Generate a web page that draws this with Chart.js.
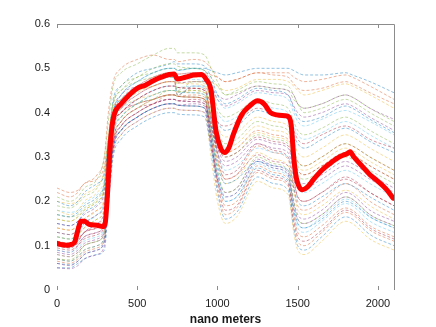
<!DOCTYPE html>
<html>
<head>
<meta charset="utf-8">
<script src="https://cdn.jsdelivr.net/npm/chart.js@4.4.1/dist/chart.umd.min.js"></script>
<style>
html,body{margin:0;padding:0;background:#fff;}
#wrap{width:436px;height:327px;position:relative;}
</style>
</head>
<body>
<div id="wrap"><canvas id="c" width="436" height="327"></canvas></div>
<script>
// wavelength positions (nm) for the sample spectra
const wavelengths = [0,80,130,170,250,295,320,350,400,500,600,700,730,750,850,920,960,1000,1050,1120,1250,1350,1440,1475,1500,1540,1650,1800,1840,1950,2100];

const s01 = [0.20,0.19,0.20,0.22,0.24,0.26,0.33,0.40,0.44,0.47,0.49,0.50,0.50,0.495,0.50,0.50,0.495,0.49,0.485,0.49,0.50,0.50,0.50,0.495,0.49,0.485,0.485,0.49,0.485,0.47,0.445];
const s02 = [0.22,0.21,0.22,0.24,0.25,0.28,0.34,0.40,0.43,0.46,0.48,0.49,0.49,0.487,0.49,0.49,0.485,0.48,0.47,0.475,0.49,0.49,0.49,0.48,0.475,0.47,0.475,0.485,0.48,0.46,0.43];
const s03 = [0.18,0.17,0.18,0.20,0.22,0.25,0.32,0.39,0.42,0.45,0.47,0.48,0.48,0.477,0.48,0.48,0.47,0.46,0.45,0.455,0.475,0.475,0.47,0.46,0.45,0.44,0.45,0.465,0.46,0.44,0.41];
const s04 = [0.15,0.145,0.155,0.17,0.19,0.22,0.30,0.38,0.41,0.44,0.46,0.47,0.47,0.467,0.47,0.47,0.455,0.44,0.43,0.44,0.46,0.455,0.45,0.44,0.42,0.41,0.42,0.44,0.435,0.41,0.385];
const s05 = [0.21,0.20,0.21,0.23,0.25,0.30,0.38,0.46,0.49,0.51,0.53,0.545,0.545,0.535,0.535,0.53,0.50,0.47,0.44,0.45,0.47,0.465,0.46,0.44,0.42,0.40,0.41,0.43,0.425,0.40,0.37];
const s06 = [0.12,0.115,0.125,0.15,0.17,0.20,0.30,0.40,0.44,0.47,0.49,0.50,0.50,0.495,0.50,0.495,0.47,0.43,0.41,0.42,0.445,0.44,0.43,0.40,0.38,0.37,0.385,0.405,0.40,0.38,0.35];
const s07 = [0.10,0.095,0.11,0.13,0.14,0.16,0.27,0.37,0.40,0.43,0.45,0.46,0.46,0.457,0.455,0.45,0.42,0.38,0.37,0.38,0.41,0.40,0.39,0.36,0.34,0.33,0.35,0.37,0.365,0.34,0.32];
const s08 = [0.17,0.165,0.175,0.19,0.21,0.24,0.32,0.40,0.43,0.455,0.47,0.48,0.48,0.44,0.46,0.46,0.43,0.38,0.36,0.37,0.405,0.395,0.385,0.35,0.33,0.32,0.34,0.365,0.36,0.335,0.31];
const s09 = [0.08,0.075,0.085,0.10,0.11,0.13,0.24,0.34,0.38,0.41,0.43,0.44,0.44,0.437,0.435,0.43,0.39,0.34,0.31,0.32,0.36,0.35,0.34,0.31,0.29,0.28,0.30,0.33,0.325,0.30,0.27];
const s10 = [0.14,0.135,0.145,0.16,0.18,0.21,0.30,0.39,0.42,0.445,0.46,0.47,0.47,0.467,0.465,0.46,0.41,0.35,0.32,0.33,0.37,0.36,0.35,0.31,0.28,0.27,0.29,0.32,0.315,0.29,0.26];
const s11 = [0.06,0.055,0.065,0.08,0.09,0.11,0.22,0.33,0.37,0.40,0.42,0.43,0.43,0.427,0.425,0.42,0.37,0.31,0.28,0.29,0.33,0.32,0.31,0.27,0.24,0.23,0.25,0.28,0.275,0.25,0.22];
const s12 = [0.19,0.185,0.195,0.21,0.23,0.27,0.35,0.42,0.45,0.47,0.48,0.49,0.49,0.45,0.47,0.47,0.43,0.36,0.33,0.34,0.38,0.37,0.36,0.32,0.29,0.28,0.30,0.33,0.325,0.30,0.27];
const s13 = [0.09,0.085,0.095,0.11,0.12,0.14,0.25,0.35,0.39,0.42,0.44,0.45,0.45,0.447,0.445,0.44,0.38,0.31,0.27,0.28,0.32,0.31,0.30,0.26,0.23,0.22,0.24,0.27,0.265,0.24,0.21];
const s14 = [0.13,0.125,0.135,0.15,0.17,0.19,0.28,0.37,0.40,0.43,0.45,0.46,0.46,0.457,0.455,0.45,0.39,0.31,0.26,0.27,0.33,0.315,0.30,0.25,0.21,0.20,0.22,0.255,0.25,0.22,0.19];
const s15 = [0.07,0.065,0.075,0.09,0.10,0.12,0.22,0.32,0.36,0.39,0.41,0.42,0.42,0.417,0.415,0.41,0.35,0.28,0.24,0.25,0.29,0.28,0.27,0.23,0.20,0.19,0.21,0.24,0.235,0.21,0.18];
const s16 = [0.11,0.105,0.115,0.13,0.15,0.17,0.27,0.37,0.41,0.44,0.46,0.47,0.47,0.44,0.455,0.455,0.39,0.30,0.25,0.26,0.325,0.31,0.295,0.23,0.19,0.18,0.20,0.24,0.235,0.20,0.17];
const s17 = [0.16,0.155,0.165,0.18,0.20,0.23,0.31,0.38,0.41,0.43,0.44,0.45,0.45,0.447,0.445,0.44,0.37,0.29,0.24,0.25,0.31,0.295,0.28,0.22,0.18,0.17,0.19,0.225,0.22,0.19,0.16];
const s18 = [0.05,0.048,0.055,0.07,0.08,0.10,0.20,0.31,0.35,0.38,0.40,0.41,0.41,0.407,0.405,0.40,0.33,0.25,0.21,0.22,0.29,0.275,0.26,0.19,0.16,0.15,0.17,0.21,0.205,0.17,0.145];
const s19 = [0.12,0.115,0.125,0.14,0.16,0.18,0.27,0.36,0.39,0.42,0.43,0.44,0.44,0.437,0.435,0.43,0.36,0.27,0.22,0.23,0.30,0.285,0.27,0.20,0.16,0.15,0.17,0.21,0.205,0.17,0.145];
const s20 = [0.08,0.075,0.085,0.10,0.11,0.13,0.24,0.35,0.39,0.42,0.44,0.45,0.45,0.447,0.445,0.44,0.36,0.26,0.20,0.21,0.285,0.27,0.255,0.18,0.14,0.13,0.155,0.195,0.19,0.155,0.13];
const s21 = [0.10,0.095,0.105,0.12,0.13,0.15,0.25,0.34,0.38,0.41,0.42,0.43,0.43,0.427,0.425,0.42,0.34,0.24,0.18,0.19,0.27,0.255,0.24,0.16,0.12,0.11,0.135,0.18,0.175,0.14,0.115];
const s22 = [0.06,0.057,0.065,0.08,0.09,0.11,0.21,0.32,0.36,0.39,0.41,0.42,0.42,0.417,0.415,0.41,0.32,0.22,0.16,0.175,0.255,0.24,0.225,0.14,0.10,0.09,0.12,0.165,0.16,0.125,0.10];
const s23 = [0.14,0.135,0.145,0.16,0.18,0.20,0.29,0.37,0.40,0.42,0.43,0.44,0.44,0.437,0.435,0.43,0.34,0.23,0.17,0.185,0.265,0.25,0.235,0.15,0.11,0.10,0.13,0.175,0.17,0.135,0.11];
const s24 = [0.07,0.065,0.075,0.09,0.10,0.12,0.21,0.31,0.35,0.38,0.40,0.41,0.41,0.407,0.405,0.40,0.30,0.20,0.15,0.165,0.245,0.23,0.215,0.13,0.09,0.08,0.11,0.155,0.15,0.115,0.09];
const s25 = [0.09,0.085,0.10,0.12,0.13,0.15,0.26,0.36,0.40,0.42,0.43,0.44,0.44,0.437,0.435,0.43,0.38,0.32,0.29,0.30,0.34,0.33,0.32,0.28,0.25,0.24,0.26,0.29,0.285,0.26,0.23];
const s26 = [0.16,0.155,0.165,0.18,0.20,0.23,0.33,0.42,0.46,0.48,0.50,0.51,0.51,0.505,0.50,0.495,0.48,0.46,0.44,0.445,0.46,0.455,0.45,0.43,0.42,0.41,0.42,0.44,0.435,0.41,0.38];
const s27 = [0.13,0.125,0.135,0.15,0.17,0.20,0.30,0.39,0.43,0.46,0.47,0.48,0.48,0.477,0.475,0.47,0.44,0.40,0.38,0.39,0.42,0.41,0.40,0.37,0.35,0.34,0.355,0.38,0.375,0.35,0.32];
const s28 = [0.11,0.105,0.115,0.13,0.14,0.16,0.25,0.33,0.36,0.39,0.41,0.42,0.42,0.417,0.415,0.41,0.37,0.32,0.30,0.31,0.345,0.335,0.325,0.29,0.27,0.26,0.28,0.31,0.305,0.28,0.25];
const s29 = [0.05,0.05,0.06,0.07,0.08,0.09,0.19,0.30,0.34,0.37,0.39,0.40,0.40,0.397,0.395,0.39,0.32,0.25,0.20,0.21,0.275,0.26,0.245,0.18,0.15,0.14,0.16,0.20,0.195,0.165,0.14];
const s30 = [0.23,0.22,0.225,0.24,0.26,0.30,0.40,0.47,0.50,0.52,0.53,0.52,0.52,0.515,0.52,0.515,0.50,0.48,0.47,0.475,0.49,0.485,0.48,0.465,0.455,0.45,0.455,0.47,0.465,0.445,0.42];
const s31 = [0.20,0.195,0.20,0.215,0.235,0.27,0.34,0.41,0.43,0.45,0.46,0.47,0.47,0.467,0.47,0.465,0.43,0.37,0.345,0.355,0.39,0.38,0.37,0.335,0.31,0.30,0.32,0.35,0.345,0.32,0.29];
const s32 = [0.10,0.10,0.11,0.13,0.15,0.18,0.29,0.40,0.44,0.46,0.48,0.49,0.49,0.487,0.49,0.485,0.46,0.43,0.415,0.425,0.45,0.445,0.44,0.415,0.40,0.39,0.40,0.42,0.415,0.39,0.36];
const s33 = [0.07,0.068,0.08,0.10,0.11,0.13,0.23,0.34,0.38,0.41,0.43,0.45,0.45,0.447,0.45,0.445,0.39,0.33,0.30,0.31,0.35,0.34,0.33,0.29,0.26,0.25,0.27,0.30,0.295,0.27,0.24];
const s34 = [0.18,0.175,0.18,0.195,0.215,0.24,0.32,0.39,0.41,0.43,0.45,0.46,0.46,0.457,0.46,0.455,0.37,0.27,0.21,0.22,0.29,0.275,0.26,0.19,0.15,0.14,0.165,0.205,0.20,0.165,0.14];
const s35 = [0.095,0.09,0.10,0.115,0.125,0.145,0.24,0.33,0.37,0.40,0.42,0.43,0.43,0.427,0.43,0.425,0.36,0.29,0.25,0.26,0.305,0.29,0.28,0.24,0.21,0.20,0.22,0.25,0.245,0.22,0.19];
const s36 = [0.15,0.145,0.155,0.175,0.195,0.23,0.33,0.43,0.46,0.49,0.50,0.51,0.515,0.51,0.51,0.505,0.48,0.44,0.42,0.43,0.455,0.45,0.44,0.41,0.39,0.38,0.39,0.415,0.41,0.385,0.355];
const s37 = [0.065,0.06,0.07,0.085,0.095,0.115,0.22,0.33,0.37,0.40,0.42,0.44,0.44,0.437,0.44,0.435,0.35,0.25,0.19,0.20,0.28,0.265,0.25,0.17,0.13,0.12,0.145,0.185,0.18,0.145,0.12];
const s38 = [0.12,0.115,0.125,0.14,0.16,0.185,0.28,0.36,0.39,0.42,0.44,0.45,0.45,0.447,0.45,0.445,0.40,0.34,0.31,0.32,0.355,0.345,0.335,0.30,0.27,0.26,0.28,0.31,0.305,0.28,0.25];
const s39 = [0.085,0.08,0.09,0.105,0.115,0.135,0.23,0.32,0.36,0.39,0.41,0.42,0.42,0.417,0.42,0.415,0.34,0.26,0.22,0.23,0.295,0.28,0.265,0.20,0.17,0.16,0.18,0.22,0.215,0.18,0.155];
const s40 = [0.17,0.165,0.17,0.185,0.205,0.24,0.33,0.42,0.45,0.48,0.49,0.50,0.50,0.497,0.50,0.495,0.46,0.41,0.39,0.40,0.43,0.42,0.41,0.38,0.36,0.35,0.365,0.39,0.385,0.36,0.33];

const sampleSeries = [s01,s02,s03,s04,s05,s06,s07,s08,s09,s10,s11,s12,s13,s14,s15,s16,s17,s18,s19,s20,s21,s22,s23,s24,s25,s26,s27,s28,s29,s30,s31,s32,s33,s34,s35,s36,s37,s38,s39,s40];

// highlighted (red) spectrum
const redWavelengths = [0,30,60,90,110,130,150,170,200,250,285,300,315,330,345,360,400,450,500,550,600,650,700,730,750,800,850,900,930,960,990,1020,1045,1070,1100,1150,1200,1250,1290,1330,1370,1420,1445,1460,1475,1490,1510,1530,1560,1600,1650,1700,1750,1790,1810,1826,1850,1900,1950,2000,2050,2095];
const redValues = [0.105,0.102,0.101,0.103,0.108,0.135,0.155,0.155,0.148,0.146,0.143,0.15,0.22,0.32,0.375,0.40,0.42,0.44,0.455,0.462,0.472,0.48,0.486,0.487,0.476,0.48,0.485,0.486,0.475,0.45,0.36,0.32,0.31,0.32,0.352,0.395,0.415,0.427,0.42,0.40,0.395,0.393,0.39,0.37,0.30,0.255,0.232,0.226,0.232,0.25,0.27,0.285,0.298,0.305,0.308,0.312,0.30,0.28,0.26,0.245,0.228,0.207];

const xTickValues = [0,500,1000,1500,2000];
const xTitle = 'nano meters';

const matlabColors = ['rgba(0,114,189,0.55)','rgba(217,83,25,0.55)','rgba(237,177,32,0.55)','rgba(126,47,142,0.55)','rgba(119,172,48,0.55)','rgba(77,190,238,0.55)','rgba(162,20,47,0.55)'];

const datasets = [];
datasets.push({
  data: redWavelengths.map((x,i)=>({x:x,y:redValues[i]})),
  borderColor:'#ff0000', borderWidth:5, pointRadius:0, order:0,
  cubicInterpolationMode:'monotone', borderJoinStyle:'round', borderCapStyle:'round'
});
sampleSeries.forEach((arr,k)=>{
  datasets.push({
    data: wavelengths.map((x,i)=>({x:x,y:arr[i]})),
    borderColor: matlabColors[k % matlabColors.length],
    borderWidth:0.8, borderDash:[3,2], pointRadius:0, order:1,
    cubicInterpolationMode:'monotone'
  });
});

const boxPlugin = {
  id:'box',
  afterDraw(chart){
    const ctx = chart.ctx, a = chart.chartArea, xs = chart.scales.x;
    ctx.save();
    ctx.strokeStyle = '#8c8c8c';
    ctx.lineWidth = 1;
    ctx.beginPath();
    ctx.moveTo(a.left, a.top+0.5); ctx.lineTo(a.right+0.5, a.top+0.5);
    ctx.lineTo(a.right+0.5, a.bottom);
    ctx.stroke();
    ctx.beginPath();
    xTickValues.forEach(v=>{
      const px = Math.round(xs.getPixelForValue(v))+0.5;
      ctx.moveTo(px, a.top); ctx.lineTo(px, a.top+4);
      ctx.moveTo(px, a.bottom); ctx.lineTo(px, a.bottom-4);
    });
    ctx.stroke();
    ctx.restore();
  }
};

new Chart(document.getElementById('c'), {
  type:'line',
  data:{datasets:datasets},
  options:{
    responsive:false, animation:false, events:[],
    layout:{padding:{left:0,top:24,right:42,bottom:0}},
    plugins:{legend:{display:false}, tooltip:{enabled:false}},
    scales:{
      x:{type:'linear', min:0, max:2100,
        grid:{display:false, drawTicks:false}, border:{display:false},
        ticks:{padding:7, maxRotation:0, autoSkip:false, color:'#1a1a1a', font:{family:'Liberation Sans', size:11},
          callback:(v)=> String(v)},
        afterBuildTicks(s){ s.ticks = xTickValues.map(v=>({value:v})); },
        title:{display:true, text:xTitle, color:'#1a1a1a', font:{family:'Liberation Sans', size:12, weight:'bold'}, padding:{top:2,bottom:0}},
        afterFit(s){ s.height = 37; }
      },
      y:{type:'linear', min:0, max:0.6,
        grid:{display:false, drawTicks:false}, border:{display:false},
        ticks:{stepSize:0.1, padding:7, color:'#1a1a1a', font:{family:'Liberation Sans', size:11},
          callback:(v)=> v===0 ? '0' : Number(v).toFixed(1)},
        afterFit(s){ s.width = 57; }
      }
    }
  },
  plugins:[boxPlugin]
});
</script>
</body>
</html>
